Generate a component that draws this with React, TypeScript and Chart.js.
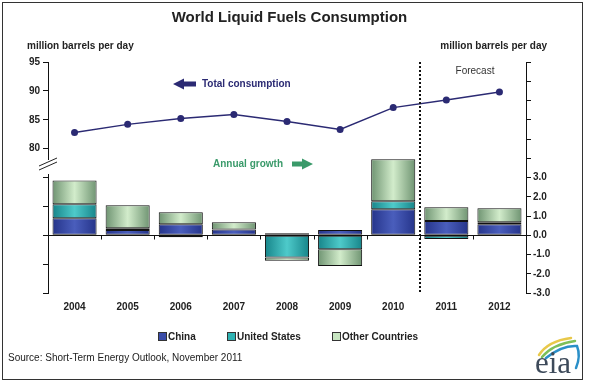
import React, { useEffect, useRef } from 'react';
import { Chart, registerables } from 'chart.js';

Chart.register(...registerables);

const years = ['2004', '2005', '2006', '2007', '2008', '2009', '2010', '2011', '2012'];
const totalConsumption = [82.8, 84.2, 85.2, 85.9, 84.7, 83.3, 87.1, 88.4, 89.8];
const chinaGrowth = [0.88, 0.27, 0.57, 0.3, 0.1, 0.27, 1.35, 0.74, 0.57];
const usGrowth = [0.73, 0.09, -0.11, 0.0, -1.15, -0.73, 0.41, -0.19, 0.1];
const otherGrowth = [1.24, 1.2, 0.62, 0.37, -0.17, -0.87, 2.19, 0.71, 0.73];
const forecastStartIndex = 7;

const FONT = 'Arial, "Liberation Sans", Helvetica, sans-serif';
const NAVY = '#2B2A73';
const GREEN_TXT = '#3A9A6A';
const BAR_FRAC = 0.83;

function barGradient(edge: string, mid: string, flat: string) {
  return (ctx: any) => {
    if (ctx.type !== 'data') return flat;
    const chart = ctx.chart;
    const xs = chart.scales && chart.scales.x;
    if (!xs || !chart.chartArea) return flat;
    const cx = xs.getPixelForValue(ctx.dataIndex);
    const half = ((xs.width / years.length) * BAR_FRAC) / 2;
    const g = chart.ctx.createLinearGradient(cx - half, 0, cx + half, 0);
    g.addColorStop(0, edge);
    g.addColorStop(0.5, mid);
    g.addColorStop(1, edge);
    return g;
  };
}

const overlay = {
  id: 'overlay',
  beforeDatasetsDraw(chart: any) {
    const { ctx, chartArea, scales } = chart;
    const x = scales.x;
    const yR = scales.yR;
    const y0 = Math.round(yR.getPixelForValue(0)) + 0.5;
    const step = x.width / years.length;
    ctx.save();
    ctx.strokeStyle = '#111';
    ctx.lineWidth = 1;
    ctx.beginPath();
    ctx.moveTo(chartArea.left, y0);
    ctx.lineTo(chartArea.right, y0);
    for (let i = 1; i < years.length; i++) {
      const px = Math.round(chartArea.left + i * step) + 0.5;
      ctx.moveTo(px, y0);
      ctx.lineTo(px, y0 + 4);
    }
    ctx.stroke();
    ctx.restore();
  },
  afterDraw(chart: any) {
    const { ctx, chartArea, scales } = chart;
    const x = scales.x;
    const step = x.width / years.length;
    ctx.save();

    // forecast divider
    const fx = Math.round(x.getPixelForValue(forecastStartIndex) - step / 2);
    ctx.strokeStyle = '#111';
    ctx.lineWidth = 2;
    ctx.setLineDash([2, 2]);
    ctx.beginPath();
    ctx.moveTo(fx, chartArea.top);
    ctx.lineTo(fx, chartArea.bottom);
    ctx.stroke();
    ctx.setLineDash([]);

    // axis break
    const ax = chartArea.left;
    ctx.fillStyle = '#fff';
    ctx.fillRect(ax - 3, 160, 6, 14);
    ctx.strokeStyle = '#222';
    ctx.lineWidth = 1;
    ctx.beginPath();
    ctx.moveTo(ax - 9, 166);
    ctx.lineTo(ax + 9, 158);
    ctx.moveTo(ax - 9, 170);
    ctx.lineTo(ax + 9, 162);
    ctx.stroke();

    ctx.textBaseline = 'middle';
    // axis unit labels
    ctx.fillStyle = '#222';
    ctx.font = `bold 10px ${FONT}`;
    ctx.textAlign = 'left';
    ctx.fillText('million barrels per day', 27, 46);
    ctx.textAlign = 'right';
    ctx.fillText('million barrels per day', 547, 46);

    // forecast label
    ctx.font = `10px ${FONT}`;
    ctx.fillStyle = '#333';
    ctx.textAlign = 'center';
    ctx.fillText('Forecast', (fx + chartArea.right) / 2 + 2, 71);

    // total consumption arrow + label
    ctx.fillStyle = NAVY;
    ctx.beginPath();
    ctx.moveTo(173, 84);
    ctx.lineTo(184, 78.5);
    ctx.lineTo(184, 81.5);
    ctx.lineTo(196, 81.5);
    ctx.lineTo(196, 86.5);
    ctx.lineTo(184, 86.5);
    ctx.lineTo(184, 89.5);
    ctx.closePath();
    ctx.fill();
    ctx.font = `bold 10px ${FONT}`;
    ctx.textAlign = 'left';
    ctx.fillText('Total consumption', 202, 84);

    // annual growth label + arrow
    ctx.fillStyle = GREEN_TXT;
    ctx.fillText('Annual growth', 213, 164);
    ctx.beginPath();
    ctx.moveTo(313, 164);
    ctx.lineTo(302, 158.5);
    ctx.lineTo(302, 161.5);
    ctx.lineTo(292, 161.5);
    ctx.lineTo(292, 166.5);
    ctx.lineTo(302, 166.5);
    ctx.lineTo(302, 169.5);
    ctx.closePath();
    ctx.fill();

    // legend
    const legend = [
      { label: 'China', color: '#3A4CA8', x: 158 },
      { label: 'United States', color: '#2FB3B3', x: 227 },
      { label: 'Other Countries', color: '#C8E6C2', x: 332 },
    ];
    ctx.font = `bold 10px ${FONT}`;
    legend.forEach((it) => {
      ctx.fillStyle = it.color;
      ctx.fillRect(it.x + 0.5, 332.5, 8, 8);
      ctx.strokeStyle = '#333';
      ctx.lineWidth = 1;
      ctx.strokeRect(it.x + 0.5, 332.5, 8, 8);
      ctx.fillStyle = '#222';
      ctx.textAlign = 'left';
      ctx.fillText(it.label, it.x + 10, 337);
    });

    // source
    ctx.font = `10px ${FONT}`;
    ctx.fillStyle = '#222';
    ctx.fillText('Source: Short-Term Energy Outlook, November 2011', 8, 358);

    // eia logo
    ctx.lineCap = 'round';
    ctx.lineWidth = 2.5;
    ctx.strokeStyle = '#E8C84A';
    ctx.beginPath();
    ctx.moveTo(539, 355);
    ctx.quadraticCurveTo(548, 341, 571, 338);
    ctx.stroke();
    ctx.strokeStyle = '#7DBF5A';
    ctx.beginPath();
    ctx.moveTo(542, 357);
    ctx.quadraticCurveTo(553, 344, 575, 341);
    ctx.stroke();
    ctx.strokeStyle = '#2A8FC8';
    ctx.beginPath();
    ctx.moveTo(546, 358);
    ctx.quadraticCurveTo(562, 345, 577, 346);
    ctx.quadraticCurveTo(581, 356, 576, 368);
    ctx.stroke();
    ctx.fillStyle = '#3D4A5A';
    ctx.font = `31px "Liberation Serif", "Times New Roman", serif`;
    ctx.textAlign = 'left';
    ctx.textBaseline = 'alphabetic';
    ctx.fillText('eia', 535, 373);

    // frame
    ctx.strokeStyle = '#333';
    ctx.lineWidth = 1;
    ctx.strokeRect(2.5, 2.5, 580, 377);
    ctx.restore();
  },
};

export default function App() {
  const ref = useRef<HTMLCanvasElement>(null);
  useEffect(() => {
    document.body.style.margin = '0';
    Chart.defaults.font.family = FONT;
    const canvas = ref.current!;
    const tickFont = { size: 10, weight: 'bold' as const };
    const chart = new Chart(canvas, {
      data: {
        labels: years,
        datasets: [
          {
            type: 'line',
            label: 'Total consumption',
            data: totalConsumption,
            yAxisID: 'yL',
            borderColor: NAVY,
            backgroundColor: NAVY,
            borderWidth: 1.5,
            pointRadius: 3.5,
            pointBackgroundColor: NAVY,
            pointBorderWidth: 0,
            tension: 0,
          },
          {
            type: 'bar',
            label: 'China',
            data: chinaGrowth,
            yAxisID: 'yR',
            stack: 'growth',
            backgroundColor: barGradient('#25348A', '#4A5EBC', '#3A4CA8'),
            borderColor: '#111',
            borderWidth: 1,
            borderSkipped: false,
            barPercentage: BAR_FRAC,
            categoryPercentage: 1,
          },
          {
            type: 'bar',
            label: 'United States',
            data: usGrowth,
            yAxisID: 'yR',
            stack: 'growth',
            backgroundColor: barGradient('#17858A', '#4ECACA', '#2FB3B3'),
            borderColor: '#111',
            borderWidth: 1,
            borderSkipped: false,
            barPercentage: BAR_FRAC,
            categoryPercentage: 1,
          },
          {
            type: 'bar',
            label: 'Other Countries',
            data: otherGrowth,
            yAxisID: 'yR',
            stack: 'growth',
            backgroundColor: barGradient('#6F9472', '#D2ECCB', '#C8E6C2'),
            borderColor: '#111',
            borderWidth: 1,
            borderSkipped: false,
            barPercentage: BAR_FRAC,
            categoryPercentage: 1,
          },
        ],
      } as any,
      options: {
        responsive: false,
        animation: false,
        devicePixelRatio: 1,
        layout: { padding: { left: 8, right: 18, top: 0, bottom: 61 } },
        plugins: {
          legend: { display: false },
          tooltip: { enabled: false },
          title: {
            display: true,
            text: 'World Liquid Fuels Consumption',
            color: '#222',
            font: { size: 15, weight: 'bold' },
            padding: { top: 9, bottom: 35 },
          },
        },
        scales: {
          x: {
            type: 'category',
            stacked: true,
            offset: true,
            grid: { display: false, drawTicks: false },
            border: { display: false },
            ticks: { padding: 8, font: tickFont, color: '#222', maxRotation: 0, autoSkip: false },
          },
          yL: {
            type: 'linear',
            position: 'left',
            min: 55,
            max: 95,
            ticks: {
              stepSize: 5,
              padding: 3,
              font: tickFont,
              color: '#222',
              callback: (v: any) => (v >= 80 ? String(v) : ''),
            },
            grid: { drawOnChartArea: false, tickLength: 5, color: '#111' },
            border: { color: '#111' },
            afterFit: (s: any) => {
              s.width = 40;
            },
          },
          yR: {
            type: 'linear',
            position: 'right',
            stacked: true,
            min: -3,
            max: 9,
            ticks: {
              stepSize: 1,
              padding: 2,
              font: tickFont,
              color: '#222',
              callback: (v: any) => (v <= 3 ? Number(v).toFixed(1) : ''),
            },
            grid: { drawOnChartArea: false, tickLength: 5, color: '#111' },
            border: { color: '#111' },
            afterFit: (s: any) => {
              s.width = 45;
            },
          },
        },
      } as any,
      plugins: [overlay],
    });
    return () => chart.destroy();
  }, []);
  return (
    <div style={{ width: 589, height: 382 }}>
      <canvas ref={ref} width={589} height={382} style={{ display: 'block' }} />
    </div>
  );
}
